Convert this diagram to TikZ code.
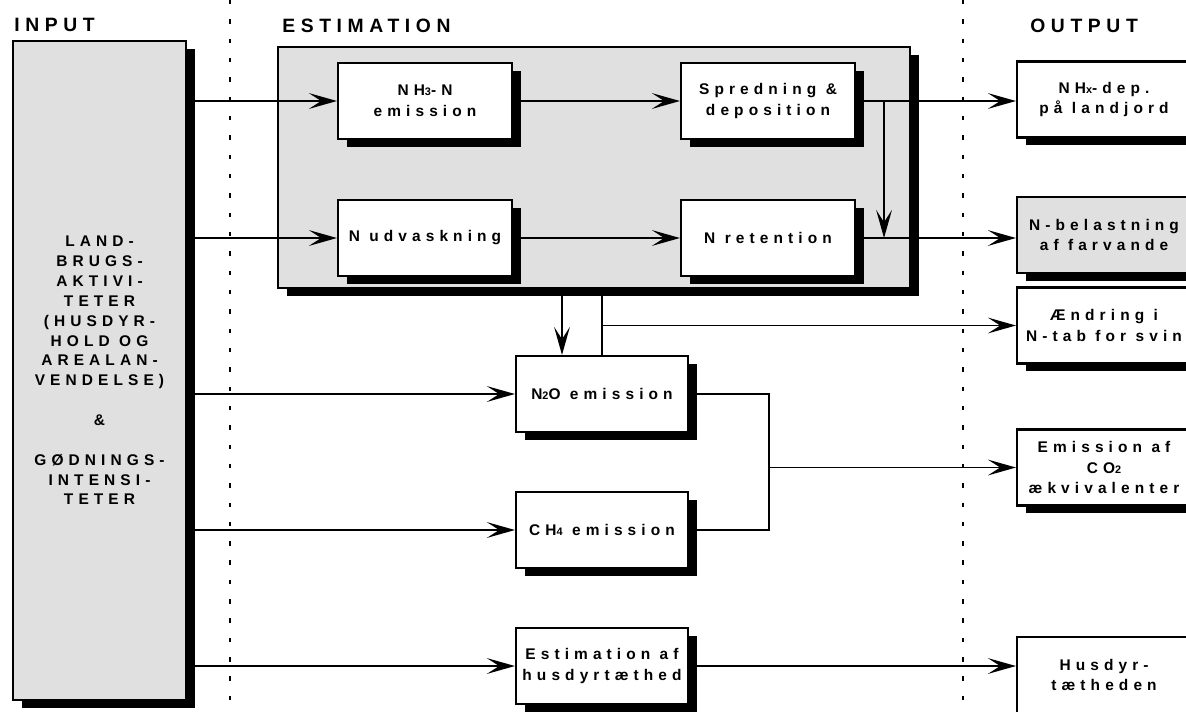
\documentclass[tikz,border=0pt]{standalone}
\usepackage{fontspec}
\setmainfont{Liberation Sans}
\newfontfamily\hdfont[LetterSpace=29]{Liberation Sans}
\newfontfamily\bxfont[LetterSpace=33]{Liberation Sans}
\usetikzlibrary{arrows.meta,shadows,calc}
\newcommand\smnum[1]{{\fontsize{6.2}{6}\selectfont#1}}
\begin{document}
\begin{tikzpicture}[x=0.02cm,y=-0.02cm,
		font=\bxfont\bfseries\fontsize{8.8}{11.8}\selectfont,
		box/.style={draw,line width=1.2pt,fill=white,align=center,inner sep=0pt,
			minimum width=3.48cm,minimum height=1.52cm,
			drop shadow={shadow xshift=5pt,shadow yshift=-4.5pt,fill=black,opacity=1}},
		dotbox/.style={box,fill=black!12},
		hd/.style={anchor=west,inner sep=0pt,font=\hdfont\bfseries\fontsize{11}{13}\selectfont},
		arr/.style={line width=1.1pt,-{Stealth[length=16pt,width=9pt,inset=7pt]}},
		con/.style={line width=1.1pt}]
	\clip (0,0) rectangle (1186,711);
	\draw[line width=0.6pt,dash pattern=on 2.5pt off 8.5pt] (230,0) -- (230,711) (963,0) -- (963,711);
	\node[hd] (hin) at (14,25) {INPUT};
	\node[hd] (hest) at (282,26) {ESTIMATION};
	\node[hd] (hout) at (1030,26) {OUTPUT};
	% estimation
	\node[dotbox,minimum width=12.64cm,minimum height=4.82cm] (est) at (594,167.5) {};
	\node[box] (nh3) at (425,101) {NH\smnum{3}-N\\emission};
	\node[box] (udv) at (425,238) {N udvaskning};
	\node[box] (spr) at (768,101) {Spredning \&\\deposition};
	\node[box] (ret) at (768,238) {N retention};
	\foreach \n/\y/\t in {n2o/394/{N\smnum{2}O emission},ch4/530/{CH\smnum{4} emission},
		tae/666/{Estimation af\\husdyrtæthed}}{
		\node[box,minimum width=3.44cm] (\n) at (602,\y) {\t};
	}
	% input
	\node[dotbox,minimum width=3.46cm,minimum height=13.18cm,
		font=\bxfont\bfseries\fontsize{8.8}{11.3}\selectfont] (inp) at (99.5,370.5)
		{LAND-\\BRUGS-\\AKTIVI-\\TETER\\(HUSDYR-\\HOLD OG\\AREALAN-\\VENDELSE)\\[11.3pt]\&\\[11.3pt]GØDNINGS-\\INTENSI-\\TETER};
	% output
	\foreach \n/\y/\t in {nhx/99.5/{NH\smnum{x}-dep.\\på landjord},aen/325.5/{Ændring i\\N-tab for svin},
		co2/467.5/{Emission af\\CO\smnum{2}\\ækvivalenter},hus/675/{Husdyr-\\tætheden}}{
		\node[box] (\n) at (1104,\y) {\t};
	}
	\node[dotbox] (bel) at (1104,235) {N-belastning\\af farvande};
	% connectors
	\foreach \x in {nh3,udv,n2o,ch4,tae}
		\draw[arr] (inp.east |- \x) -- (\x);
	\draw[arr] (nh3) -- (spr);
	\draw[arr] (udv) -- (ret);
	\draw[arr] (spr.east) -- (nhx.west |- spr.east);
	\draw[arr] (ret.east) -- (bel.west |- ret.east);
	\coordinate (sj) at ($(spr.east)+(28,0)$);
	\draw[arr] (sj) -- (sj |- ret.east);
	\coordinate (dn) at ($(n2o.north)+(-40,0)$);
	\draw[arr] (est.south -| dn) -- (dn);
	\draw[con] (n2o.north) -- (n2o.north |- est.south);
	\draw[arr] (n2o.north |- aen.west) -- (aen.west);
	\coordinate (cj) at ($(n2o.east)+(80,0)$);
	\draw[con] (n2o.east) -- (cj) -- (cj |- ch4.east) -- (ch4.east);
	\draw[arr] (cj |- co2.west) -- (co2.west);
	\draw[arr] (tae.east) -- (hus.west |- tae.east);
\end{tikzpicture}
\end{document}
